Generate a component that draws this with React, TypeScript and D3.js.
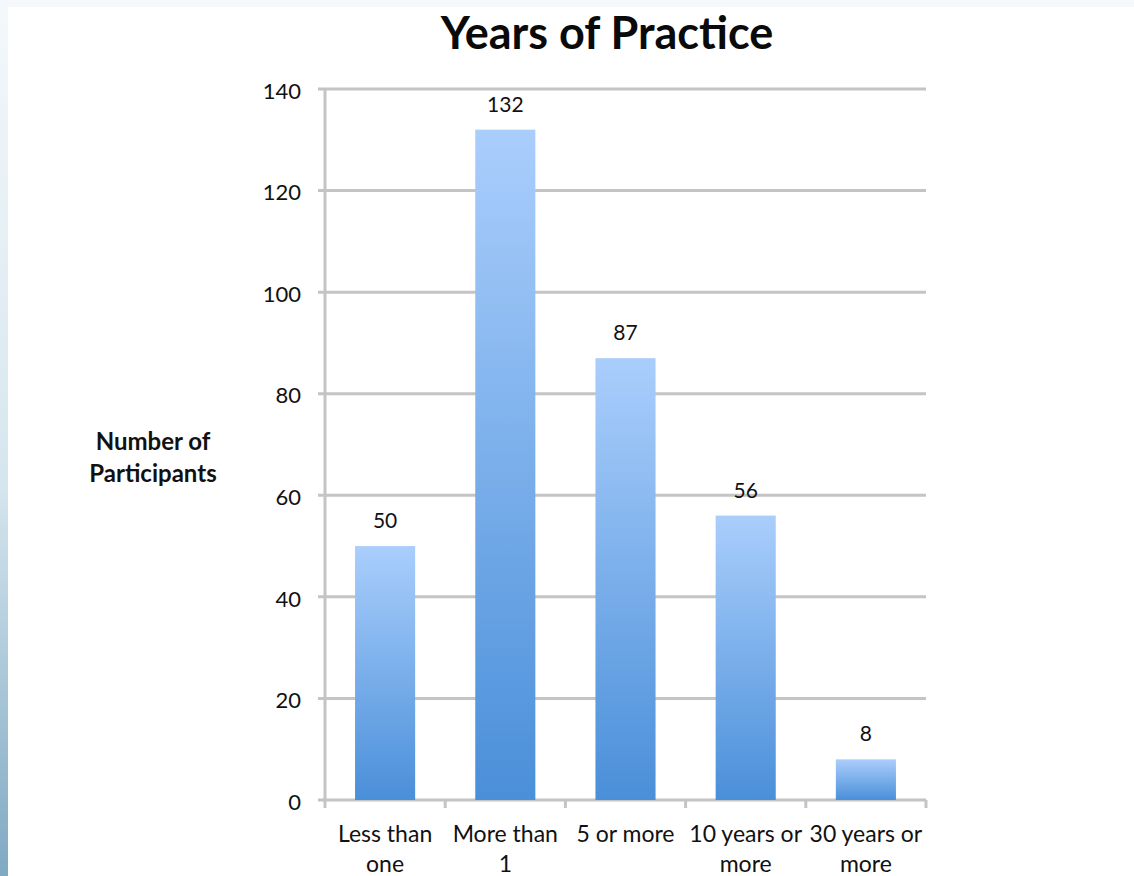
import * as d3 from "d3"
import { useRef, useEffect } from "react"

const categories = ["Less than one", "More than 1", "5 or more", "10 years or more", "30 years or more"]
const tickLines = [["Less than", "one"], ["More than", "1"], ["5 or more"], ["10 years or", "more"], ["30 years or", "more"]]
const participants = [50, 132, 87, 56, 8]
const yTicks = [0, 20, 40, 60, 80, 100, 120, 140]

const W = 1134
const H = 876
const FONT = "Lato, 'Open Sans', sans-serif"

export default function App() {
  const svgRef = useRef<SVGSVGElement>(null)

  useEffect(() => {
    if (!svgRef.current) return
    const svg = d3.select(svgRef.current)
    svg.selectAll("*").remove()

    const margin = { top: 89, right: 208, bottom: 76, left: 325 }

    const x = d3
      .scaleBand()
      .domain(categories)
      .range([margin.left, W - margin.right])
      .paddingInner(0.5)
      .paddingOuter(0.25)

    const y = d3
      .scaleLinear()
      .domain([0, 140])
      .range([H - margin.bottom, margin.top])

    const defs = svg.append("defs")
    const barGrad = defs
      .append("linearGradient")
      .attr("id", "bar-grad")
      .attr("x1", 0)
      .attr("y1", 0)
      .attr("x2", 0)
      .attr("y2", 1)
    barGrad.append("stop").attr("offset", "0%").attr("stop-color", "#aacefc")
    barGrad.append("stop").attr("offset", "100%").attr("stop-color", "#4a8fd9")

    const sideGrad = defs
      .append("linearGradient")
      .attr("id", "side-grad")
      .attr("x1", 0)
      .attr("y1", 0)
      .attr("x2", 0)
      .attr("y2", 1)
    sideGrad.append("stop").attr("offset", "0%").attr("stop-color", "#f4f8fb")
    sideGrad.append("stop").attr("offset", "55%").attr("stop-color", "#d6e6ee")
    sideGrad.append("stop").attr("offset", "100%").attr("stop-color", "#7fa9c2")

    // slide background edges
    svg.append("rect").attr("width", W).attr("height", H).attr("fill", "#ffffff")
    svg.append("rect").attr("width", W).attr("height", 7).attr("fill", "#f6f8fc")
    svg.append("rect").attr("width", 8).attr("height", H).attr("fill", "url(#side-grad)")

    const x0 = margin.left
    const x1 = W - margin.right

    // horizontal grid + y ticks
    svg
      .append("g")
      .selectAll("line")
      .data(yTicks)
      .enter()
      .append("line")
      .attr("x1", x0 - 7)
      .attr("x2", x1)
      .attr("y1", (d) => y(d))
      .attr("y2", (d) => y(d))
      .attr("stroke", "#c4c4c4")
      .attr("stroke-width", 3)

    // y axis line
    svg
      .append("line")
      .attr("x1", x0)
      .attr("x2", x0)
      .attr("y1", y(140))
      .attr("y2", y(0) + 1)
      .attr("stroke", "#c4c4c4")
      .attr("stroke-width", 3)

    // x ticks at band boundaries
    const step = x.step()
    const boundaries = d3.range(categories.length + 1).map((i) => x0 + i * step)
    svg
      .append("g")
      .selectAll("line")
      .data(boundaries)
      .enter()
      .append("line")
      .attr("x1", (d) => d)
      .attr("x2", (d) => d)
      .attr("y1", y(0))
      .attr("y2", y(0) + 8)
      .attr("stroke", "#c4c4c4")
      .attr("stroke-width", 3)

    // y tick labels
    svg
      .append("g")
      .selectAll("text")
      .data(yTicks)
      .enter()
      .append("text")
      .attr("x", x0 - 24)
      .attr("y", (d) => y(d) + 2)
      .attr("dy", "0.35em")
      .attr("text-anchor", "end")
      .attr("font-family", FONT)
      .attr("font-size", 22)
      .attr("fill", "#111111")
      .text((d) => d)

    // bars
    svg
      .append("g")
      .selectAll("rect")
      .data(participants)
      .enter()
      .append("rect")
      .attr("x", (_, i) => x(categories[i]) || 0)
      .attr("y", (d) => y(d))
      .attr("width", x.bandwidth())
      .attr("height", (d) => y(0) - y(d))
      .attr("fill", "url(#bar-grad)")

    // value labels
    svg
      .append("g")
      .selectAll("text")
      .data(participants)
      .enter()
      .append("text")
      .attr("x", (_, i) => (x(categories[i]) || 0) + x.bandwidth() / 2)
      .attr("y", (d) => y(d) - 18)
      .attr("text-anchor", "middle")
      .attr("font-family", FONT)
      .attr("font-size", 21)
      .attr("fill", "#111111")
      .text((d) => d)

    // x labels
    const xLabels = svg
      .append("g")
      .selectAll("text")
      .data(categories)
      .enter()
      .append("text")
      .attr("text-anchor", "middle")
      .attr("font-family", FONT)
      .attr("font-size", 23)
      .attr("fill", "#111111")
    xLabels
      .selectAll("tspan")
      .data((_, i) => tickLines[i].map((t) => ({ t, c: categories[i] })))
      .enter()
      .append("tspan")
      .attr("x", (d) => (x(d.c) || 0) + x.bandwidth() / 2)
      .attr("y", (_, j) => y(0) + 42 + j * 30)
      .text((d) => d.t)

    // y axis title
    svg
      .append("text")
      .attr("text-anchor", "middle")
      .attr("font-family", FONT)
      .attr("font-size", 24)
      .attr("font-weight", "bold")
      .attr("fill", "#111111")
      .selectAll("tspan")
      .data(["Number of", "Participants"])
      .enter()
      .append("tspan")
      .attr("x", 153)
      .attr("y", (_, j) => 450 + j * 32)
      .text((d) => d)

    // title
    svg
      .append("text")
      .attr("x", 607)
      .attr("y", 49)
      .attr("text-anchor", "middle")
      .attr("font-family", FONT)
      .attr("font-size", 45)
      .attr("font-weight", "bold")
      .attr("fill", "#0a0a0a")
      .text("Years of Practice")
  }, [])

  return (
    <div style={{ position: "absolute", left: 0, top: 0 }}>
      <svg ref={svgRef} width={W} height={H} style={{ display: "block" }}></svg>
    </div>
  )
}
